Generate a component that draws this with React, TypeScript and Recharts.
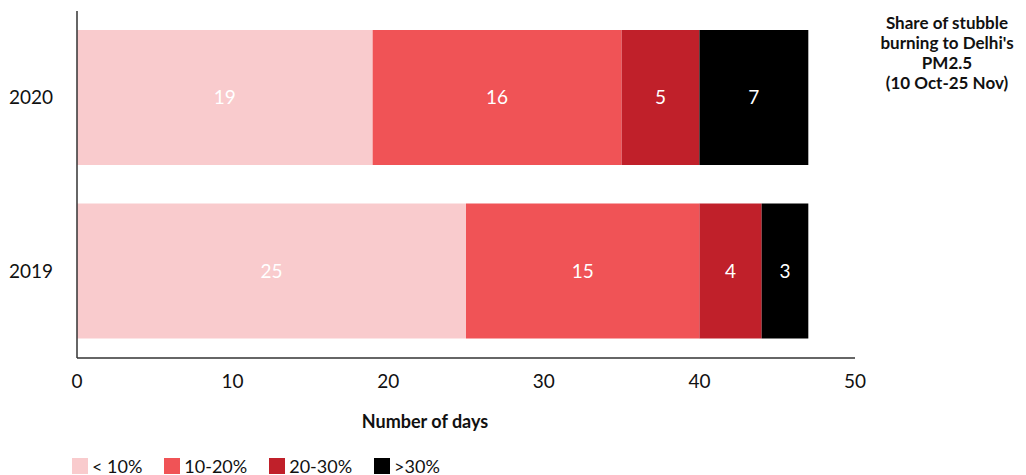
import React from "react";
import { BarChart, Bar, XAxis, YAxis, LabelList } from "recharts";

// days per year, grouped by stubble burning share of Delhi's PM2.5
const years = ["2020", "2019"];
const below10 = [19, 25];
const from10to20 = [16, 15];
const from20to30 = [5, 4];
const above30 = [7, 3];
const xTicks = [0, 10, 20, 30, 40, 50];

const series = [
  { key: "below10", name: "< 10%", color: "#F9CBCD" },
  { key: "from10to20", name: "10-20%", color: "#F05356" },
  { key: "from20to30", name: "20-30%", color: "#C0202A" },
  { key: "above30", name: ">30%", color: "#000000" },
];

const data = years.map((year, i) => ({
  year,
  below10: below10[i],
  from10to20: from10to20[i],
  from20to30: from20to30[i],
  above30: above30[i],
}));

const font = "Lato, 'Noto Sans', sans-serif";

function App() {
  return (
    <div style={{ position: "relative", width: 1010, height: 467, fontFamily: font, color: "#111" }}>
      <BarChart
        width={1010}
        height={400}
        data={data}
        layout="vertical"
        margin={{ top: 3, right: 163, left: 0, bottom: 10 }}
        barCategoryGap={0}
      >
        <XAxis
          type="number"
          domain={[0, 50]}
          ticks={xTicks}
          height={40}
          tickSize={0}
          tickMargin={17}
          axisLine={{ stroke: "#333", strokeWidth: 1.5 }}
          tick={{ fill: "#111", fontSize: 19, fontFamily: font }}
        />
        <YAxis
          type="category"
          dataKey="year"
          width={69}
          tickSize={0}
          tickMargin={24}
          axisLine={{ stroke: "#333", strokeWidth: 1.5 }}
          tick={{ fill: "#111", fontSize: 19, fontFamily: font }}
        />
        {series.map((s) => (
          <Bar key={s.key} dataKey={s.key} stackId="a" fill={s.color} barSize={135} isAnimationActive={false}>
            <LabelList dataKey={s.key} position="center" fill="#fff" fontSize={19} fontFamily={font} />
          </Bar>
        ))}
      </BarChart>

      <div
        style={{
          position: "absolute",
          left: 858,
          top: 5,
          width: 162,
          textAlign: "center",
          fontWeight: 700,
          fontSize: 17,
          lineHeight: "20px",
        }}
      >
        Share of stubble
        <br />
        burning to Delhi's
        <br />
        PM2.5
        <br />
        (10 Oct-25 Nov)
      </div>

      <div
        style={{
          position: "absolute",
          left: 0,
          width: 834,
          top: 402,
          textAlign: "center",
          fontWeight: 700,
          fontSize: 18,
        }}
      >
        Number of days
      </div>

      <div
        style={{
          position: "absolute",
          left: 64,
          top: 450,
          height: 16,
          display: "flex",
          alignItems: "center",
          fontSize: 18,
          lineHeight: "16px",
        }}
      >
        {series.map((s) => (
          <div key={s.key} style={{ display: "flex", alignItems: "center", marginRight: 22 }}>
            <span style={{ width: 16, height: 16, background: s.color, marginRight: 4, display: "inline-block" }} />
            <span>{s.name}</span>
          </div>
        ))}
      </div>
    </div>
  );
}

export default App;
